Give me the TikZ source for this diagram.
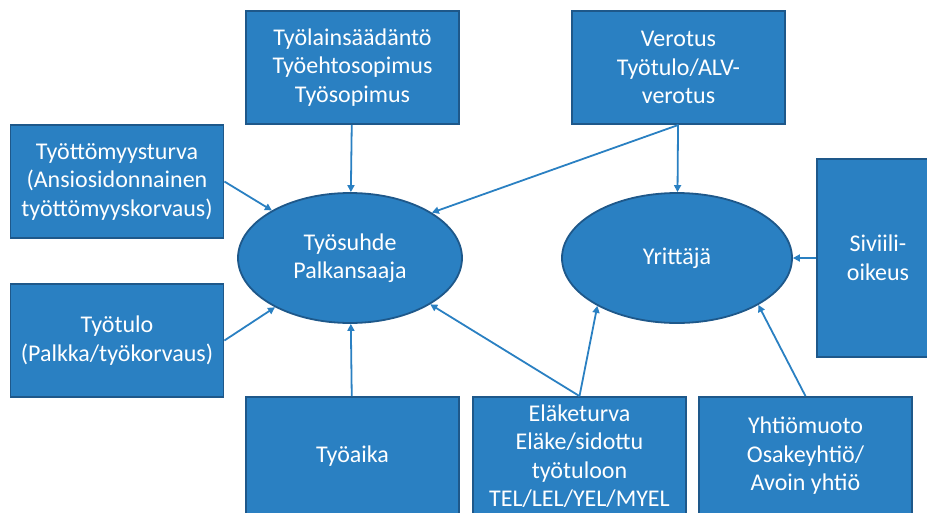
\documentclass[tikz,border=0pt]{standalone}
\usepackage{fontspec}
\setmainfont{Carlito}
\usetikzlibrary{shapes.geometric,arrows.meta}
\definecolor{boxfill}{RGB}{42,128,194}
\definecolor{boxline}{RGB}{30,88,138}
\definecolor{arrowc}{RGB}{42,128,194}
\begin{document}
\begin{tikzpicture}[x=1pt,y=-1pt,
  box/.style={draw=boxline,line width=1.8pt,fill=boxfill,text=white,align=center,
    minimum width=213pt,minimum height=113pt,inner sep=2pt,
    font=\fontsize{24}{28.5}\selectfont},
  oval/.style={ellipse,draw=boxline,line width=1.8pt,fill=boxfill,text=white,align=center,
    minimum width=224pt,minimum height=130pt,inner sep=0pt,
    font=\fontsize{24}{28.5}\selectfont},
  conn/.style={draw=arrowc,line width=1.8pt,-{Triangle[length=7pt,width=7pt]}}]
\useasboundingbox (0,0) rectangle (927,512);
\node[box] (A) at (352.5,67.5) {Työlainsäädäntö\\Työehtosopimus\\Työsopimus};
\node[box] (B) at (678.5,67.5) {Verotus\\Työtulo/ALV-\\verotus};
\node[box] (C) at (117,181.5) {Työttömyysturva\\(Ansiosidonnainen\\työttömyyskorvaus)};
\node[box] (D) at (117,340.5) {Työtulo\\(Palkka/työkorvaus)};
\node[box,minimum height=118pt] (E) at (352.5,456) {Työaika};
\node[box,minimum height=118pt] (F) at (579.5,456) {Eläketurva\\Eläke/sidottu\\työtuloon\\TEL/LEL/YEL/MYEL};
\node[box,minimum height=118pt] (G) at (805.5,456) {Yhtiömuoto\\Osakeyhtiö/\\Avoin yhtiö};
\node[box,minimum width=122pt,minimum height=198pt] (H) at (878,258) {Siviili-\\oikeus};
\node[oval] (e1) at (350,258) {Työsuhde\\Palkansaaja};
\node[oval,minimum width=230pt] (e2) at (677,258) {Yrittäjä};
\draw[conn] (A) -- (e1);
\draw[conn] (B) -- (e2);
\draw[conn] (B.south) -- (e1.29);
\draw[conn] (C.east) -- (e1);
\draw[conn] (D.east) -- (e1);
\draw[conn] (E) -- (e1);
\draw[conn] (F.north) -- (e1.-30);
\draw[conn] (F.north) -- (e2.-149);
\draw[conn] (G.north) -- (e2.-30);
\draw[conn] (H.west) -- (e2);
\end{tikzpicture}
\end{document}
